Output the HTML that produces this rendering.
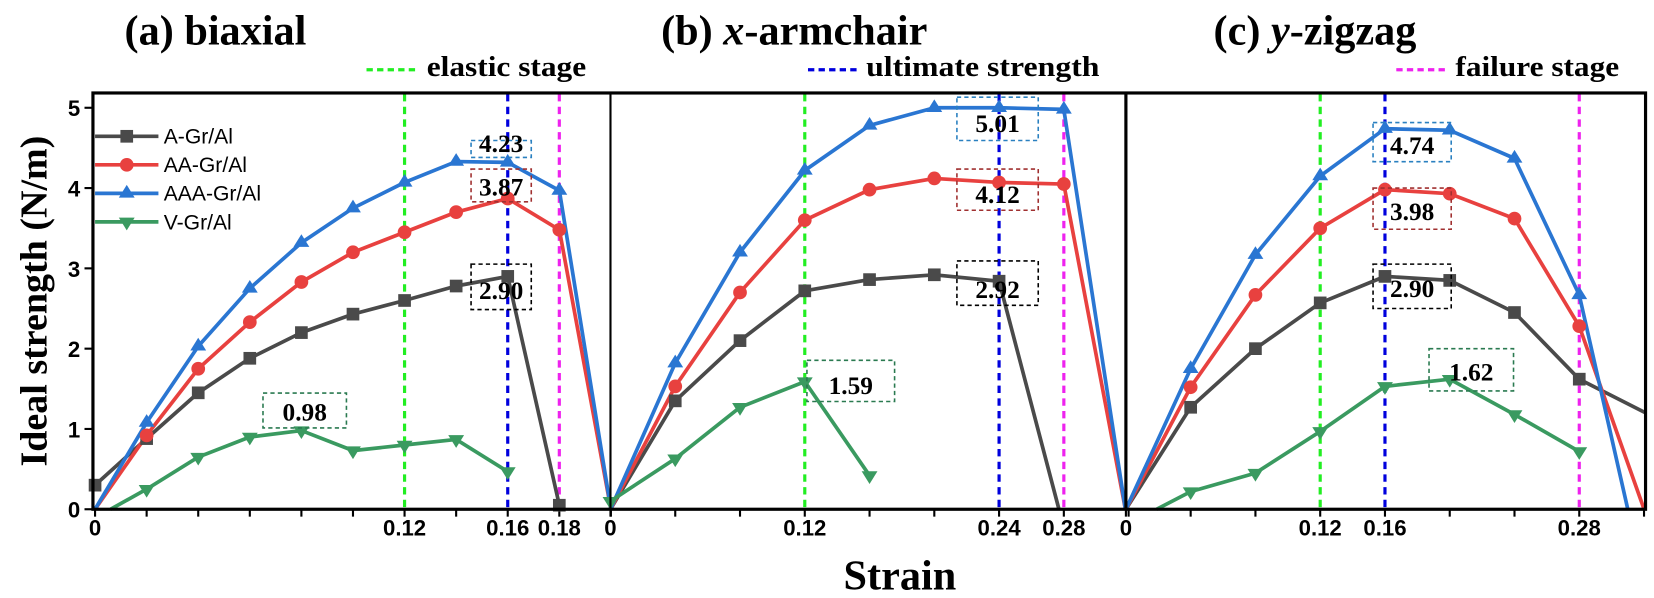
<!DOCTYPE html>
<html><head><meta charset="utf-8"><style>
html,body{margin:0;padding:0;background:#fff;}
svg{display:block;}
.t{font-family:"Liberation Serif",serif;font-weight:bold;}
.tk{font-family:"Liberation Sans",sans-serif;font-weight:bold;font-size:21px;}
.lg{font-family:"Liberation Sans",sans-serif;font-size:20px;}
.an{font-family:"Liberation Serif",serif;font-weight:bold;font-size:24px;}
</style></head><body>
<svg id="s" width="1654" height="598" viewBox="0 0 1566 566" preserveAspectRatio="none" xmlns="http://www.w3.org/2000/svg">
<text class="t" x="204" y="42" font-size="40" text-anchor="middle">(a) biaxial</text>
<text class="t" x="752" y="42" font-size="40" text-anchor="middle">(b) <tspan font-style="italic">x</tspan>-armchair</text>
<text class="t" x="1245" y="42" font-size="40" text-anchor="middle">(c) <tspan font-style="italic">y</tspan>-zigzag</text>
<line x1="347" y1="66" x2="395" y2="66" stroke="#22ee22" stroke-width="3" stroke-dasharray="6,4"/>
<text class="t" x="404" y="72" font-size="27" textLength="151" lengthAdjust="spacingAndGlyphs">elastic stage</text>
<line x1="765" y1="66" x2="811" y2="66" stroke="#0000dd" stroke-width="3" stroke-dasharray="6,4"/>
<text class="t" x="820" y="72" font-size="27" textLength="221" lengthAdjust="spacingAndGlyphs">ultimate strength</text>
<line x1="1322" y1="66" x2="1371" y2="66" stroke="#ee22ee" stroke-width="3" stroke-dasharray="6,4"/>
<text class="t" x="1378" y="72" font-size="27" textLength="155" lengthAdjust="spacingAndGlyphs">failure stage</text>
<text class="t" font-size="36" transform="translate(44,285) rotate(-90)" text-anchor="middle">Ideal strength (N/m)</text>
<text class="t" x="852" y="558" font-size="40" text-anchor="middle">Strain</text>
<g id="g"></g>
</svg>
<script>
var g=document.getElementById('g');var NS='http://www.w3.org/2000/svg';
function el(n,a,txt){var e=document.createElementNS(NS,n);for(var k in a)e.setAttribute(k,a[k]);if(txt)e.textContent=txt;g.appendChild(e);return e;}
var Y=function(v){return 482-76*v;};
var P=[{x0:90,s:2442},{x0:578,s:1533},{x0:1066,s:1533}];
var C={A:'#4a4a4a',AA:'#e8413f',AAA:'#2a76d2',V:'#3a9a60'};
function X(p,v){return P[p].x0+P[p].s*v;}
var data=[
{A:[[0,.3],[.02,.88],[.04,1.45],[.06,1.88],[.08,2.2],[.1,2.43],[.12,2.6],[.14,2.78],[.16,2.9],[.18,.05]],
AA:[[0,0],[.02,.92],[.04,1.75],[.06,2.33],[.08,2.83],[.1,3.2],[.12,3.45],[.14,3.7],[.16,3.87],[.18,3.48],[.2,0]],
AAA:[[0,0],[.02,1.08],[.04,2.03],[.06,2.75],[.08,3.32],[.1,3.75],[.12,4.07],[.14,4.33],[.16,4.32],[.18,3.97],[.2,0]],
V:[[.006,0],[.02,.25],[.04,.65],[.06,.9],[.08,.98],[.1,.73],[.12,.8],[.14,.87],[.16,.47]]},
{A:[[0,0],[.04,1.35],[.08,2.1],[.12,2.72],[.16,2.86],[.2,2.92],[.24,2.84],[.277,0]],
AA:[[0,0],[.04,1.53],[.08,2.7],[.12,3.6],[.16,3.98],[.2,4.12],[.24,4.07],[.28,4.05],[.318,0]],
AAA:[[0,0],[.04,1.82],[.08,3.2],[.12,4.22],[.16,4.78],[.2,5.0],[.24,5.0],[.28,4.98],[.318,0]],
V:[[0,.1],[.04,.63],[.08,1.27],[.12,1.59],[.16,.42]]},
{A:[[0,0],[.04,1.27],[.08,2.0],[.12,2.57],[.16,2.9],[.2,2.85],[.24,2.45],[.28,1.62],[.321,1.2]],
AA:[[0,0],[.04,1.52],[.08,2.67],[.12,3.5],[.16,3.98],[.2,3.93],[.24,3.62],[.28,2.28],[.32,0]],
AAA:[[0,0],[.04,1.75],[.08,3.17],[.12,4.15],[.16,4.74],[.2,4.72],[.24,4.37],[.28,2.67],[.31,0]],
V:[[.019,0],[.04,.22],[.08,.45],[.12,.97],[.16,1.53],[.2,1.62],[.24,1.18],[.28,.72]]}];
var vl=[[.12,.16,.18],[.12,.24,.28],[.12,.16,.28]];var vc=['#22ee22','#0000dd','#ee22ee'];
var ticks=[[0,.2,.02],[0,.32,.04],[0,.32,.04]];
var tl=[[['0',0],['0.12',.12],['0.16',.16],['0.18',.18]],[['0',0],['0.12',.12],['0.24',.24],['0.28',.28]],[['0',0],['0.12',.12],['0.16',.16],['0.28',.28]]];
function mk(k,x,y){var c=C[k];
 if(k=='A')el('rect',{x:x-6,y:y-6,width:12,height:12,fill:c});
 else if(k=='AA')el('circle',{cx:x,cy:y,r:6.5,fill:c});
 else if(k=='AAA')el('path',{d:'M'+x+','+(y-8)+'l7.5,12h-15z',fill:c});
 else el('path',{d:'M'+x+','+(y+8)+'l7.5,-12h-15z',fill:c});}
for(var p=0;p<3;p++){
 for(var i=0;i<3;i++){var xx=X(p,vl[p][i]);el('line',{x1:xx,y1:89,x2:xx,y2:482,stroke:vc[i],'stroke-width':3,'stroke-dasharray':'7,5'});}
 for(var t=ticks[p][0];t<=ticks[p][1]+1e-9;t+=ticks[p][2]){var xx=X(p,t);if(xx>1560)continue;el('line',{x1:xx,y1:482,x2:xx,y2:489,stroke:'#000','stroke-width':2});}
 tl[p].forEach(function(l){el('text',{x:X(p,l[1]),y:507,'text-anchor':'middle','class':'tk'},l[0]);});
 ['A','AA','AAA','V'].forEach(function(k){var d=data[p][k];var pts=d.map(function(q){return X(p,q[0]).toFixed(1)+','+Y(q[1]).toFixed(1)});
  el('polyline',{points:pts.join(' '),fill:'none',stroke:C[k],'stroke-width':3.5,'stroke-linejoin':'round'});});
}
for(var p=0;p<3;p++)['A','AA','AAA','V'].forEach(function(k){data[p][k].forEach(function(q,j){var x=X(p,q[0]);if(q[1]<0.01&&!(k=='A'&&p==0))return;if(x>1550)return;mk(k,x,Y(q[1]));});});
var bx=[[446,133,57,16,'#2a80c0','4.23',144],[446,160,57,31,'#a03030','3.87',185],[446,250,57,43,'#000','2.90',283],[249,372,79,33,'#2a7a50','0.98',398],
[906,92,77,41,'#2a80c0','5.01',125],[906,160,77,39,'#a03030','4.12',192],[906,247,77,42,'#000','2.92',282],[764,341,83,39,'#2a7a50','1.59',373],
[1300,116,74,37,'#2a80c0','4.74',146],[1300,178,74,39,'#a03030','3.98',208],[1300,250,74,42,'#000','2.90',281],[1353,330,80,40,'#2a7a50','1.62',360]];
bx.forEach(function(b){el('rect',{x:b[0],y:b[1],width:b[2],height:b[3],fill:'none',stroke:b[4],'stroke-width':1.5,'stroke-dasharray':'4,3'});
 el('text',{x:b[0]+b[2]/2,y:b[6],'text-anchor':'middle','class':'an'},b[5]);});
el('rect',{x:88,y:88,width:1470,height:394,fill:'none',stroke:'#000','stroke-width':3});
el('line',{x1:578,y1:88,x2:578,y2:482,stroke:'#000','stroke-width':2});
el('line',{x1:1066,y1:88,x2:1066,y2:482,stroke:'#000','stroke-width':3});
for(var v=0;v<=5;v++){el('line',{x1:80,y1:Y(v),x2:88,y2:Y(v),stroke:'#000','stroke-width':2});el('text',{x:76,y:Y(v)+8,'text-anchor':'end','class':'tk'},''+v);}
var lk=['A','AA','AAA','V'],ln=['A-Gr/Al','AA-Gr/Al','AAA-Gr/Al','V-Gr/Al'];
lk.forEach(function(k,i){var y=129+i*27;el('line',{x1:90,y1:y,x2:150,y2:y,stroke:C[k],'stroke-width':3.5});mk(k,120,y);el('text',{x:155,y:y+7,'class':'lg'},ln[i]);});
</script>
</body></html>
